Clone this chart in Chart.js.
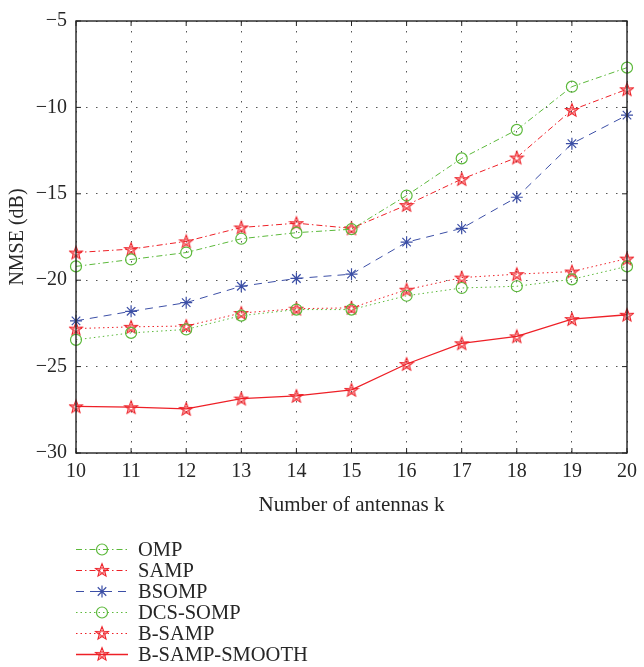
<!DOCTYPE html>
<html>
<head>
<meta charset="utf-8">
<script src="https://cdn.jsdelivr.net/npm/chart.js@4"></script>
<style>
  body { margin: 0; background: #fff; }
  #wrap { position: relative; width: 644px; height: 530px; }
  #legend { position: absolute; left: 75px; top: 539px; font-family: "Liberation Serif", "DejaVu Serif", serif; font-size: 20.5px; color: #262626; }
  .row { height: 21px; display: flex; align-items: center; }
  .row canvas { width: 54px; height: 21px; margin-right: 9px; }
</style>
</head>
<body>
<div id="wrap"><canvas id="myChart"></canvas></div>
<div id="legend"></div>
<script>
var antennas = [10, 11, 12, 13, 14, 15, 16, 17, 18, 19, 20];
var omp = [-19.2, -18.8, -18.4, -17.6, -17.25, -17.05, -15.1, -12.95, -11.3, -8.8, -7.7];
var samp = [-18.4, -18.2, -17.75, -16.95, -16.7, -17.0, -15.65, -14.15, -12.9, -10.15, -8.95];
var bsomp = [-22.35, -21.8, -21.3, -20.35, -19.9, -19.65, -17.8, -17.0, -15.2, -12.1, -10.45];
var dcsSomp = [-23.45, -23.05, -22.85, -22.05, -21.7, -21.7, -20.9, -20.45, -20.35, -19.95, -19.2];
var bSamp = [-22.8, -22.7, -22.65, -21.9, -21.65, -21.6, -20.55, -19.85, -19.65, -19.5, -18.75];
var bSampSmooth = [-27.3, -27.35, -27.45, -26.85, -26.7, -26.35, -24.85, -23.65, -23.25, -22.25, -22.0];

var green = "#5cb93b", red = "#ee2027", blue = "#3c4fa6";

// pentagram marker like matlab 'p'
function starImage(color) {
  var c = document.createElement("canvas");
  c.width = 16; c.height = 16;
  var g = c.getContext("2d");
  function penta(r1, r2) {
    g.beginPath();
    for (var i = 0; i < 10; i++) {
      var r = i % 2 ? r2 : r1;
      var a = -Math.PI / 2 + i * Math.PI / 5;
      var px = 8 + r * Math.cos(a), py = 8.6 + r * Math.sin(a);
      if (i == 0) g.moveTo(px, py); else g.lineTo(px, py);
    }
    g.closePath();
    g.stroke();
  }
  g.strokeStyle = color;
  g.lineWidth = 1.1;
  penta(6.8, 2.9);
  g.lineWidth = 0.7;
  penta(3.6, 1.6);
  return c;
}
var pstar = starImage(red);

var series = [
  { label: "OMP", data: omp, color: green, dash: [6, 3, 1.5, 3], marker: "circle" },
  { label: "SAMP", data: samp, color: red, dash: [6, 3, 1.5, 3], marker: "pstar" },
  { label: "BSOMP", data: bsomp, color: blue, dash: [8, 6], marker: "ast" },
  { label: "DCS-SOMP", data: dcsSomp, color: green, dash: [1.5, 3], marker: "circle" },
  { label: "B-SAMP", data: bSamp, color: red, dash: [1.5, 3], marker: "pstar" },
  { label: "B-SAMP-SMOOTH", data: bSampSmooth, color: red, dash: [], marker: "pstar" }
];

var datasets = series.map(function(s) {
  return {
    label: s.label,
    data: s.data,
    borderColor: s.color,
    backgroundColor: "transparent",
    borderWidth: s.dash.length ? 1 : 1.3,
    borderDash: s.dash,
    pointStyle: s.marker == "circle" ? "circle" : (s.marker == "ast" ? "star" : pstar),
    pointRadius: s.marker == "circle" ? 5.5 : 6,
    pointBorderWidth: 1.2,
    pointBorderColor: s.color,
    pointBackgroundColor: "transparent",
    tension: 0
  };
});

var framePlugin = {
  id: "frame",
  afterDraw: function(chart) {
    var ctx = chart.ctx, a = chart.chartArea;
    var xs = chart.scales.x, ys = chart.scales.y;
    ctx.save();
    ctx.strokeStyle = "#222";
    ctx.lineWidth = 1;
    ctx.beginPath();
    xs.ticks.forEach(function(t, i) {
      var px = xs.getPixelForTick(i);
      ctx.moveTo(px, a.bottom); ctx.lineTo(px, a.bottom - 5);
      ctx.moveTo(px, a.top); ctx.lineTo(px, a.top + 5);
    });
    ys.ticks.forEach(function(t, i) {
      var py = ys.getPixelForTick(i);
      ctx.moveTo(a.left, py); ctx.lineTo(a.left + 5, py);
      ctx.moveTo(a.right, py); ctx.lineTo(a.right - 5, py);
    });
    ctx.stroke();
    ctx.lineWidth = 1.4;
    ctx.strokeRect(a.left, a.top, a.right - a.left, a.bottom - a.top);
    ctx.restore();
  }
};

var font = "'Liberation Serif', 'DejaVu Serif', serif";

new Chart("myChart", {
  type: "line",
  data: { labels: antennas, datasets: datasets },
  options: {
    responsive: true,
    maintainAspectRatio: false,
    animation: false,
    layout: { padding: { left: 0, right: 11, top: 13, bottom: 0 } },
    plugins: { legend: { display: false }, tooltip: { enabled: false } },
    scales: {
      x: {
        grid: { color: "#555", lineWidth: 1, drawTicks: false },
        border: { display: false, dash: [1.5, 8.5] },
        ticks: { color: "#262626", font: { family: font, size: 20 }, padding: 7, maxRotation: 0 },
        title: { display: true, text: "Number of antennas k", color: "#262626", font: { family: font, size: 21 }, padding: { top: 0, bottom: 12 } },
        afterFit: function(scale) { scale.height = 77; }
      },
      y: {
        min: -30, max: -5,
        grid: { color: "#555", lineWidth: 1, drawTicks: false },
        border: { display: false, dash: [1.5, 8.5] },
        ticks: {
          stepSize: 5, color: "#262626", padding: 9,
          font: { family: font, size: 20 },
          callback: function(v) { return String(v).replace("-", "\u2212"); }
        },
        title: { display: true, text: "NMSE (dB)", color: "#262626", font: { family: font, size: 20 }, padding: { top: 6, bottom: 0 } },
        afterFit: function(scale) { scale.width = 76; }
      }
    }
  },
  plugins: [framePlugin]
});

// legend below the plot
var legend = document.getElementById("legend");
series.forEach(function(s) {
  var row = document.createElement("div");
  row.className = "row";
  var c = document.createElement("canvas");
  c.width = 54; c.height = 21;
  var g = c.getContext("2d");
  g.strokeStyle = s.color;
  g.lineWidth = s.dash.length ? 1 : 1.3;
  g.setLineDash(s.dash);
  g.beginPath(); g.moveTo(1, 10.5); g.lineTo(53, 10.5); g.stroke();
  g.setLineDash([]);
  g.lineWidth = 1.2;
  var cx = 27, cy = 10.5;
  if (s.marker == "circle") {
    g.beginPath(); g.arc(cx, cy, 5.5, 0, Math.PI * 2); g.stroke();
  } else if (s.marker == "ast") {
    g.beginPath();
    for (var i = 0; i < 4; i++) {
      var a = i * Math.PI / 4;
      g.moveTo(cx - 6 * Math.cos(a), cy - 6 * Math.sin(a));
      g.lineTo(cx + 6 * Math.cos(a), cy + 6 * Math.sin(a));
    }
    g.stroke();
  } else {
    g.drawImage(pstar, cx - 8, cy - 8.6);
  }
  row.appendChild(c);
  var t = document.createElement("span");
  t.textContent = s.label;
  row.appendChild(t);
  legend.appendChild(row);
});
</script>
</body>
</html>
